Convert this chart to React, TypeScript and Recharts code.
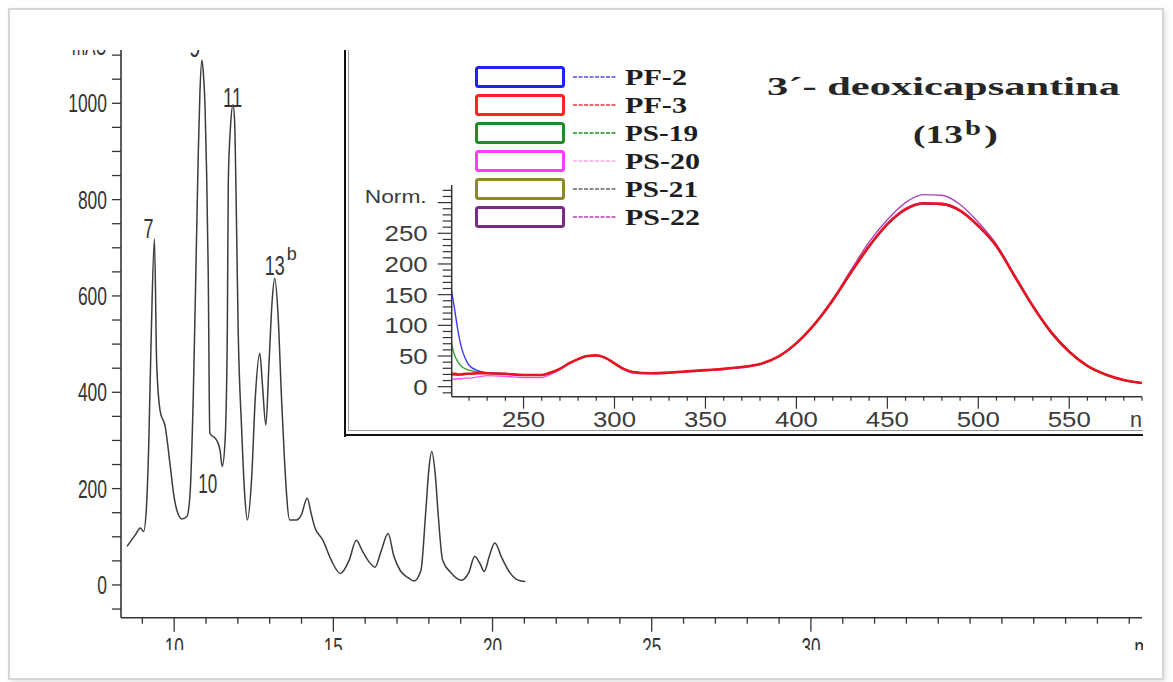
import { LineChart, Line, XAxis, YAxis, ReferenceDot } from 'recharts';

// chromatogram: retention time (min) and signal (mAU)
const retentionTimes = [
  8.52, 8.78, 8.94, 9.04, 9.13, 9.2, 9.28, 9.38, 9.45, 9.56,
  9.72, 9.88, 9.98, 10.08, 10.24, 10.4, 10.5, 10.6, 10.71, 10.76,
  10.81, 10.87, 10.92, 10.97, 11.02, 11.07, 11.12, 11.33, 11.44, 11.51,
  11.6, 11.67, 11.7, 11.77, 11.85, 11.9, 11.94, 12.01, 12.12, 12.22,
  12.3, 12.43, 12.55, 12.69, 12.77, 12.88, 12.98, 13.08, 13.16, 13.26,
  13.37, 13.47, 13.63, 13.83, 13.99, 14.18, 14.3, 14.41, 14.67, 14.93,
  15.22, 15.5, 15.72, 15.9, 16.1, 16.31, 16.5, 16.72, 16.9, 17.1,
  17.35, 17.53, 17.75, 17.9, 18.0, 18.09, 18.2, 18.3, 18.43, 18.7,
  19.02, 19.25, 19.44, 19.6, 19.74, 19.9, 20.07, 20.3, 20.55, 20.8,
  21.03
];
const signalMAU = [
  80, 104, 118, 111, 162, 287, 520, 718, 461, 361,
  328, 245, 190, 156, 137, 142, 190, 391, 744, 903,
  1024, 1090, 1060, 993, 855, 647, 315, 301, 280, 246,
  301, 530, 835, 952, 997, 960, 827, 530, 322, 183,
  135, 218, 391, 481, 418, 332, 462, 592, 637, 565,
  391, 253, 135, 135, 145, 180, 149, 121, 93, 52,
  24, 52, 93, 72, 50, 37, 70, 107, 60, 30,
  15, 8, 30, 150, 240, 277, 230, 140, 52, 25,
  10, 25, 59, 45, 28, 60, 87, 55, 25, 10,
  7
];

// peak annotations
const peakNames = ['7', '9', '11', '10', '13'];
const peakTimes = [9.38, 10.87, 11.85, 11.51, 13.16];
const peakHeights = [718, 1090, 997, 246, 637];

const mainYTicks = [-50, 0, 50, 100, 150, 200, 250, 300, 350, 400, 450, 500, 550, 600, 650, 700, 750, 800, 850, 900, 950, 1000, 1050, 1100];
const mainYLabels = [0, 200, 400, 600, 800, 1000];
const mainXTicks = [9, 10, 11, 12, 13, 14, 15, 16, 17, 18, 19, 20, 21, 22, 23, 24, 25, 26, 27, 28, 29, 30, 31, 32, 33, 34, 35, 36, 37, 38, 39, 40];
const mainXLabels = [10, 15, 20, 25, 30];

// UV-Vis spectra of peak 13b
const wavelengths = [
  210, 212, 214, 216, 218, 220, 225, 230, 240, 250,
  260, 265, 270, 275, 280, 285, 290, 295, 300, 305,
  310, 320, 330, 340, 350, 360, 370, 380, 390, 400,
  410, 420, 430, 440, 450, 460, 470, 480, 490, 500,
  510, 520, 530, 540, 550, 560, 570, 580, 590
];
const pf2 = [
  163, 128, 90, 62, 46, 35, 26, 23, 21, 19,
  19, 23, 30, 38, 45, 50, 51, 47, 38, 29,
  24, 22, 23, 25, 27, 29, 32, 37, 49, 70,
  101, 140, 185, 228, 264, 288, 298, 297, 286, 261,
  228, 179, 131, 88, 57, 34, 20, 11, 6
];
const pf3 = [
  21, 21, 20, 20, 21, 21, 22, 22, 21, 19,
  19, 23, 29, 38, 45, 50, 51, 47, 38, 29,
  24, 22, 23, 25, 27, 29, 32, 37, 49, 71,
  102, 141, 186, 229, 265, 289, 299, 298, 287, 262,
  229, 180, 131, 89, 57, 34, 20, 11, 6
];
const ps19 = [
  76, 52, 40, 33, 29, 27, 24, 22, 21, 19,
  19, 23, 29, 38, 45, 50, 51, 47, 38, 29,
  24, 22, 23, 25, 27, 29, 32, 37, 49, 70,
  102, 141, 186, 229, 264, 289, 298, 297, 287, 262,
  229, 180, 131, 88, 56, 33, 19, 10, 6
];
const ps20 = [
  14, 12, 13, 13, 14, 14, 16, 18, 17, 15,
  15, 20, 28, 37, 45, 50, 51, 47, 37, 28,
  22, 21, 22, 24, 26, 28, 31, 36, 48, 70,
  102, 141, 187, 231, 266, 291, 300, 299, 288, 263,
  230, 181, 132, 89, 57, 34, 20, 11, 6
];
const ps21 = [
  20, 20, 20, 21, 21, 21, 22, 22, 21, 19,
  19, 23, 29, 38, 45, 50, 51, 47, 38, 29,
  24, 22, 23, 25, 27, 29, 32, 37, 49, 71,
  102, 141, 186, 229, 264, 289, 298, 297, 287, 262,
  229, 180, 131, 89, 57, 34, 20, 11, 6
];
const ps22 = [
  19, 19, 19, 20, 20, 21, 22, 22, 21, 19,
  19, 23, 29, 38, 45, 50, 51, 47, 38, 29,
  24, 22, 23, 25, 27, 29, 32, 37, 49, 71,
  103, 143, 190, 236, 272, 300, 313, 312, 297, 268,
  232, 182, 133, 90, 58, 34, 20, 11, 6
];

const seriesNames = ['PF-2', 'PF-3', 'PS-19', 'PS-20', 'PS-21', 'PS-22'];
const seriesValues = [pf2, pf3, ps19, ps20, ps21, ps22];
const boxColors = ['#2020ff', '#ff2222', '#228a2a', '#ff3cff', '#8c8a2c', '#7a2a86'];
const plotColors = ['#3a3aff', '#e8141e', '#30a030', '#ff4cff', '#72722c', '#a846b4'];
const dashColors = ['#7a7ae6', '#f06a6a', '#52b052', '#ffbde8', '#8c8c8c', '#cc6ccc'];
const drawOrder = [4, 3, 2, 0, 5, 1];
const legendWidths = [62, 62, 73, 75, 73, 75];

const insetXTicks = [220, 230, 240, 250, 260, 270, 280, 290, 300, 310, 320, 330, 340, 350, 360, 370, 380, 390, 400, 410, 420, 430, 440, 450, 460, 470, 480, 490, 500, 510, 520, 530, 540, 550, 560, 570, 580, 590];
const insetXLabels = [250, 300, 350, 400, 450, 500, 550];
const insetYTicks = [-10, 0, 10, 20, 30, 40, 50, 60, 70, 80, 90, 100, 110, 120, 130, 140, 150, 160, 170, 180, 190, 200, 210, 220, 230, 240, 250, 260, 270, 280, 290, 300, 310, 320];
const insetYLabels = [0, 50, 100, 150, 200, 250];

const chromData = retentionTimes.map((t, i) => ({ t, mAU: signalMAU[i] }));
const spectraData = wavelengths.map((nm, i) => {
  const row: Record<string, number> = { nm };
  seriesNames.forEach((name, j) => {
    row[name] = seriesValues[j][i];
  });
  return row;
});

const SANS = 'Liberation Sans, Arial, sans-serif';
const SERIF = 'Liberation Serif, Times New Roman, serif';
const INK = '#343434';

const MainYTick = (props: any) => {
  const { x, y, payload } = props;
  const v = payload.value;
  let label = '';
  if (v === 1100) label = 'mAU';
  else if (mainYLabels.includes(v)) label = String(v);
  return (
    <g>
      <line x1={x - 9} y1={y} x2={x} y2={y} stroke={INK} strokeWidth={1.3} />
      {label && (
        <text
          x={x - 14}
          y={v === 1100 ? y - 0.5 : y + 9}
          textAnchor="end"
          fontFamily={SANS}
          fontSize={25}
          fill={INK}
          textLength={v === 1100 ? 35 : label.length * 9.7}
          lengthAdjust="spacingAndGlyphs"
        >
          {label}
        </text>
      )}
    </g>
  );
};

const MainXTick = (props: any) => {
  const { x, y, payload } = props;
  const v = payload.value;
  const major = mainXLabels.includes(v);
  return (
    <g>
      <line x1={x} y1={y} x2={x} y2={y + (major ? 14 : 6)} stroke={INK} strokeWidth={1.3} />
      {major && (
        <text x={x} y={y + 38} textAnchor="middle" fontFamily={SANS} fontSize={25} fill={INK}
          textLength={19} lengthAdjust="spacingAndGlyphs">
          {v}
        </text>
      )}
      {v === 40 && (
        <text x={x + 5} y={y + 38} textAnchor="start" fontFamily={SANS} fontSize={25} fill={INK}
          textLength={30} lengthAdjust="spacingAndGlyphs">
          min
        </text>
      )}
    </g>
  );
};

const InsetYTick = (props: any) => {
  const { x, y, payload } = props;
  const v = payload.value;
  const major = v % 50 === 0;
  const labelled = insetYLabels.includes(v);
  return (
    <g>
      <line x1={x - (major ? 14 : 9)} y1={y} x2={x} y2={y} stroke={INK} strokeWidth={1.2} />
      {labelled && (
        <text x={x - 24} y={y + 8} textAnchor="end" fontFamily={SANS} fontSize={22} fill="#3c3c3c"
          textLength={String(v).length * 14.4} lengthAdjust="spacingAndGlyphs">
          {v}
        </text>
      )}
      {v === 300 && (
        <text x={x - 25} y={y + 0.5} textAnchor="end" fontFamily={SANS} fontSize={18} fill="#3c3c3c"
          textLength={62} lengthAdjust="spacingAndGlyphs">
          Norm.
        </text>
      )}
    </g>
  );
};

const InsetXTick = (props: any) => {
  const { x, y, payload } = props;
  const v = payload.value;
  const major = insetXLabels.includes(v);
  return (
    <g>
      <line x1={x} y1={y} x2={x} y2={y + (major ? 12 : 4)} stroke={INK} strokeWidth={1.2} />
      {major && (
        <text x={x} y={y + 30} textAnchor="middle" fontFamily={SANS} fontSize={22} fill="#3c3c3c"
          textLength={43} lengthAdjust="spacingAndGlyphs">
          {v}
        </text>
      )}
      {v === 590 && (
        <text x={x - 12} y={y + 30} textAnchor="start" fontFamily={SANS} fontSize={22} fill="#3c3c3c"
          textLength={30} lengthAdjust="spacingAndGlyphs">
          nm
        </text>
      )}
    </g>
  );
};

// offsets of each peak label from its peak
const peakLabel = (name: string) => (props: any) => {
  const { x, y } = props.viewBox;
  const common = { fontFamily: SANS, fontSize: 27, fill: INK, lengthAdjust: 'spacingAndGlyphs' as const };
  if (name === '7') return <text x={x - 1} y={y - 1} textAnchor="end" textLength={10} {...common}>7</text>;
  if (name === '9') return <text x={x - 1.5} y={y - 3} textAnchor="end" textLength={11} {...common}>9</text>;
  if (name === '11') return <text x={x - 0.5} y={y + 2} textAnchor="middle" textLength={19} {...common}>11</text>;
  if (name === '10') return <text x={x - 5} y={y + 26.5} textAnchor="end" textLength={19} {...common}>10</text>;
  return (
    <g>
      <text x={x - 10} y={y - 3} textAnchor="start" textLength={20} {...common}>13</text>
      <text x={x + 12} y={y - 18} textAnchor="start" fontFamily={SANS} fontSize={18} fill={INK}>b</text>
    </g>
  );
};

const Legend = () => (
  <svg width={800} height={240} style={{ position: 'absolute', left: 0, top: 0 }}>
    {seriesNames.map((name, i) => {
      const top = 66 + i * 28;
      return (
        <g key={name}>
          <rect x={133.5} y={top + 1.5} width={87} height={19} rx={2} fill="#fff" stroke={boxColors[i]} strokeWidth={3} />
          <line x1={230} y1={top + 11} x2={274} y2={top + 11} stroke={dashColors[i]} strokeWidth={2} strokeDasharray="4 1.5" />
          <text x={282} y={top + 19} fontFamily={SERIF} fontWeight="bold" fontSize={23} fill="#1e1e1e"
            textLength={legendWidths[i]} lengthAdjust="spacingAndGlyphs">
            {name}
          </text>
        </g>
      );
    })}
    <text x={424} y={95} fontFamily={SERIF} fontWeight="bold" fontSize={26} fill="#262626"
      textLength={353} lengthAdjust="spacingAndGlyphs">
      3´- deoxicapsantina
    </text>
    <text x={570} y={143} fontFamily={SERIF} fontWeight="bold" fontSize={26} fill="#262626"
      textLength={50} lengthAdjust="spacingAndGlyphs">
      (13
    </text>
    <text x={622} y={135} fontFamily={SERIF} fontWeight="bold" fontSize={21} fill="#262626"
      textLength={16} lengthAdjust="spacingAndGlyphs">
      b
    </text>
    <text x={641} y={143} fontFamily={SERIF} fontWeight="bold" fontSize={26} fill="#262626"
      textLength={14} lengthAdjust="spacingAndGlyphs">
      )
    </text>
  </svg>
);

const SpectraInset = () => (
  <div style={{ position: 'absolute', left: 343, top: 0, width: 800, height: 437, background: '#fff' }}>
    <LineChart width={800} height={437} data={spectraData} margin={{ top: 185, right: 1, bottom: 10.3, left: 48.7 }}>
      <XAxis
        dataKey="nm"
        type="number"
        domain={[210.5, 590]}
        allowDataOverflow
        ticks={insetXTicks}
        interval={0}
        height={30}
        tickSize={0}
        tickMargin={0}
        tickLine={false}
        tick={InsetXTick}
        axisLine={{ stroke: INK, strokeWidth: 1.5 }}
      />
      <YAxis
        type="number"
        domain={[-16.3, 328.7]}
        allowDataOverflow
        ticks={insetYTicks}
        interval={0}
        width={60}
        tickSize={0}
        tickMargin={0}
        tickLine={false}
        tick={InsetYTick}
        axisLine={{ stroke: INK, strokeWidth: 1.5 }}
      />
      {drawOrder.map((i) => (
        <Line
          key={seriesNames[i]}
          dataKey={seriesNames[i]}
          type="monotone"
          stroke={plotColors[i]}
          strokeWidth={i === 1 ? 2.6 : 1.4}
          dot={false}
          isAnimationActive={false}
        />
      ))}
    </LineChart>
    <Legend />
    <div style={{ position: 'absolute', left: 0.5, top: 0, width: 2.5, height: 437, background: '#111' }} />
    <div style={{ position: 'absolute', left: 4.5, top: 0, width: 1.5, height: 431, background: '#9a9a9a' }} />
    <div style={{ position: 'absolute', left: 4.5, top: 429.5, width: 800, height: 1.5, background: '#9a9a9a' }} />
    <div style={{ position: 'absolute', left: 0.5, top: 433.5, width: 800, height: 2.5, background: '#111' }} />
  </div>
);

export default function App() {
  return (
    <div style={{ position: 'relative', width: 1173, height: 682, background: '#fff', overflow: 'hidden' }}>
      <style>{'body{margin:0}'}</style>
      <div
        style={{
          position: 'absolute',
          left: 8,
          top: 8,
          width: 1152,
          height: 668,
          border: '2px solid #d6d6d6',
          boxShadow: '2px 2px 5px rgba(0,0,0,0.12)'
        }}
      />
      <div style={{ position: 'absolute', left: 0, top: 50, width: 1143, height: 600, overflow: 'hidden' }}>
        <div style={{ position: 'absolute', left: 0, top: -50, width: 1173, height: 700 }}>
          <LineChart width={1173} height={700} data={chromData} margin={{ top: 45, right: 31, bottom: 42.3, left: 61 }}>
            <XAxis
              dataKey="t"
              type="number"
              domain={[8.33, 40.4]}
              allowDataOverflow
              ticks={mainXTicks}
              interval={0}
              height={40}
              tickSize={0}
              tickMargin={0}
              tickLine={false}
              tick={MainXTick}
              axisLine={{ stroke: INK, strokeWidth: 1.6 }}
            />
            <YAxis
              type="number"
              domain={[-68, 1121]}
              allowDataOverflow
              ticks={mainYTicks}
              interval={0}
              width={60}
              tickSize={0}
              tickMargin={0}
              tickLine={false}
              tick={MainYTick}
              axisLine={{ stroke: INK, strokeWidth: 1.6 }}
            />
            <Line
              dataKey="mAU"
              type="monotone"
              stroke="#3c3c3c"
              strokeWidth={1.5}
              dot={false}
              isAnimationActive={false}
            />
            {peakNames.map((name, i) => (
              <ReferenceDot
                key={name}
                x={peakTimes[i]}
                y={peakHeights[i]}
                r={0}
                fill="none"
                stroke="none"
                label={peakLabel(name)}
              />
            ))}
          </LineChart>
          <SpectraInset />
        </div>
      </div>
    </div>
  );
}
